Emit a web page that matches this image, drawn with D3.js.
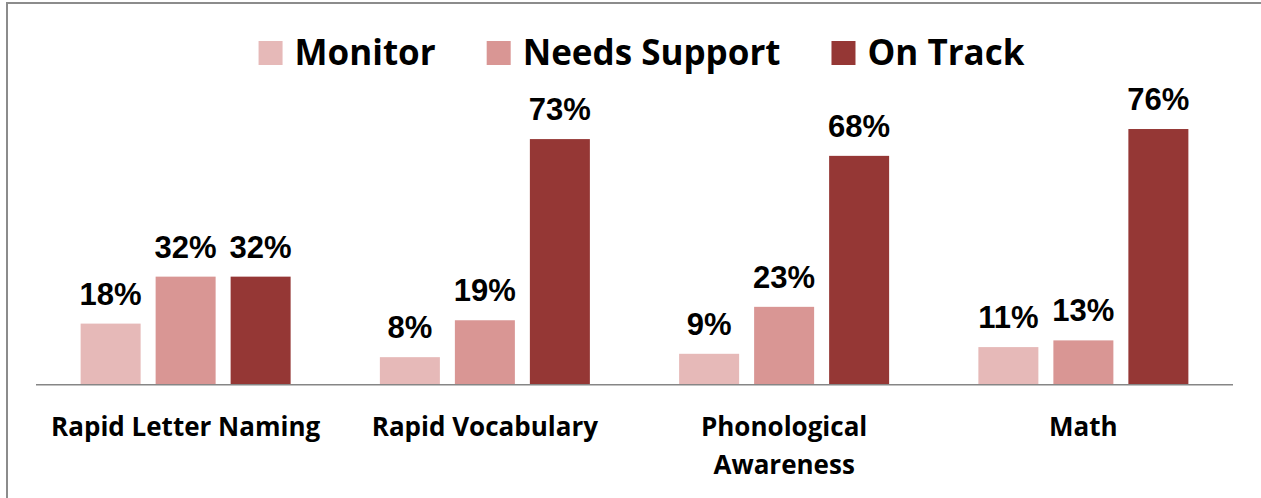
<!DOCTYPE html>
<html>
<head>
<meta charset="utf-8">
<script src="https://cdn.jsdelivr.net/npm/d3@7"></script>
<style>
  html, body { margin: 0; padding: 0; background: #fff; }
  svg { display: block; }
</style>
</head>
<body>
<div id="chart"></div>
<script>
// chart values
var categories = [["Rapid Letter Naming"], ["Rapid Vocabulary"], ["Phonological", "Awareness"], ["Math"]];
var seriesNames = ["Monitor", "Needs Support", "On Track"];
var monitor = [18, 8, 9, 11];
var needsSupport = [32, 19, 23, 13];
var onTrack = [32, 73, 68, 76];
var colors = ["#E6B9B8", "#D99694", "#953735"];

var config = {
  width: 1261,
  height: 498,
  margin: { top: 115.6, right: 28, bottom: 114, left: 36 }
};

var series = [monitor, needsSupport, onTrack];
var catKeys = categories.map(function(c) { return c.join(" "); });
var labelFont = "'Open Sans', Lato, sans-serif";

var svg = d3.select("#chart").append("svg")
    .attr("width", config.width)
    .attr("height", config.height);

// outer frame (only top and left edges visible in the crop)
svg.append("rect")
    .attr("x", 7).attr("y", 3)
    .attr("width", config.width + 20).attr("height", config.height + 20)
    .attr("fill", "none")
    .attr("stroke", "#8c8c8c")
    .attr("stroke-width", 2);

var baseline = config.height - config.margin.bottom;
var x = d3.scaleBand()
    .domain(catKeys)
    .range([config.margin.left, config.width - config.margin.right])
    .paddingInner(0).paddingOuter(0);

var xs = d3.scaleBand()
    .domain(seriesNames)
    .range([0, x.bandwidth()])
    .paddingInner(0.2).paddingOuter(0.595);

var y = d3.scaleLinear()
    .domain([0, 80])
    .range([baseline, config.margin.top]);

var rows = [];
catKeys.forEach(function(k, i) {
  seriesNames.forEach(function(s, j) {
    rows.push({ cat: k, series: s, value: series[j][i], color: colors[j] });
  });
});

var groups = svg.append("g");
groups.selectAll("rect.bar")
    .data(rows)
  .enter().append("rect")
    .attr("class", "bar")
    .attr("x", function(d) { return x(d.cat) + xs(d.series); })
    .attr("y", function(d) { return y(d.value); })
    .attr("width", xs.bandwidth())
    .attr("height", function(d) { return baseline - y(d.value); })
    .attr("fill", function(d) { return d.color; });

groups.selectAll("text.val")
    .data(rows)
  .enter().append("text")
    .attr("class", "val")
    .attr("x", function(d) { return x(d.cat) + xs(d.series) + xs.bandwidth() / 2; })
    .attr("y", function(d) { return y(d.value) - 19; })
    .attr("text-anchor", "middle")
    .style("font-family", "'Liberation Sans', Arial, sans-serif")
    .style("font-weight", "bold")
    .style("font-size", "31px")
    .attr("fill", "#000")
    .text(function(d) { return d.value + "%"; });

// x axis line
svg.append("line")
    .attr("x1", x.range()[0]).attr("x2", x.range()[1])
    .attr("y1", baseline + 0.7).attr("y2", baseline + 0.7)
    .attr("stroke", "#868686")
    .attr("stroke-width", 1.5);

// category labels
var catLabels = svg.append("g").selectAll("text")
    .data(categories)
  .enter().append("text")
    .attr("x", function(d, i) { return x(catKeys[i]) + x.bandwidth() / 2; })
    .attr("y", baseline + 51.5)
    .attr("text-anchor", "middle")
    .style("font-family", labelFont)
    .style("font-weight", "bold")
    .style("font-size", "26px")
    .attr("fill", "#000");
catLabels.selectAll("tspan")
    .data(function(d) { return d; })
  .enter().append("tspan")
    .attr("x", function() { return d3.select(this.parentNode).attr("x"); })
    .attr("dy", function(d, i) { return i ? 38 : 0; })
    .text(function(d) { return d; });

// legend
var legend = svg.append("g");
var items = legend.selectAll("g")
    .data(seriesNames)
  .enter().append("g");
items.append("rect")
    .attr("width", 24).attr("height", 24)
    .attr("y", 41)
    .attr("fill", function(d, i) { return colors[i]; });
items.append("text")
    .attr("x", 36)
    .attr("y", 64.5)
    .style("font-family", labelFont)
    .style("font-weight", "bold")
    .style("font-size", "35px")
    .attr("fill", "#000")
    .text(function(d) { return d; });

var offset = 0;
var widths = [];
items.each(function() {
  var w = d3.select(this).select("text").node().getComputedTextLength();
  widths.push(36 + w);
});
var gap = 51;
var total = d3.sum(widths) + gap * (widths.length - 1);
var start = 641.5 - total / 2;
items.attr("transform", function(d, i) {
  var t = "translate(" + (start + offset) + ",0)";
  offset += widths[i] + gap;
  return t;
});
</script>
</body>
</html>
